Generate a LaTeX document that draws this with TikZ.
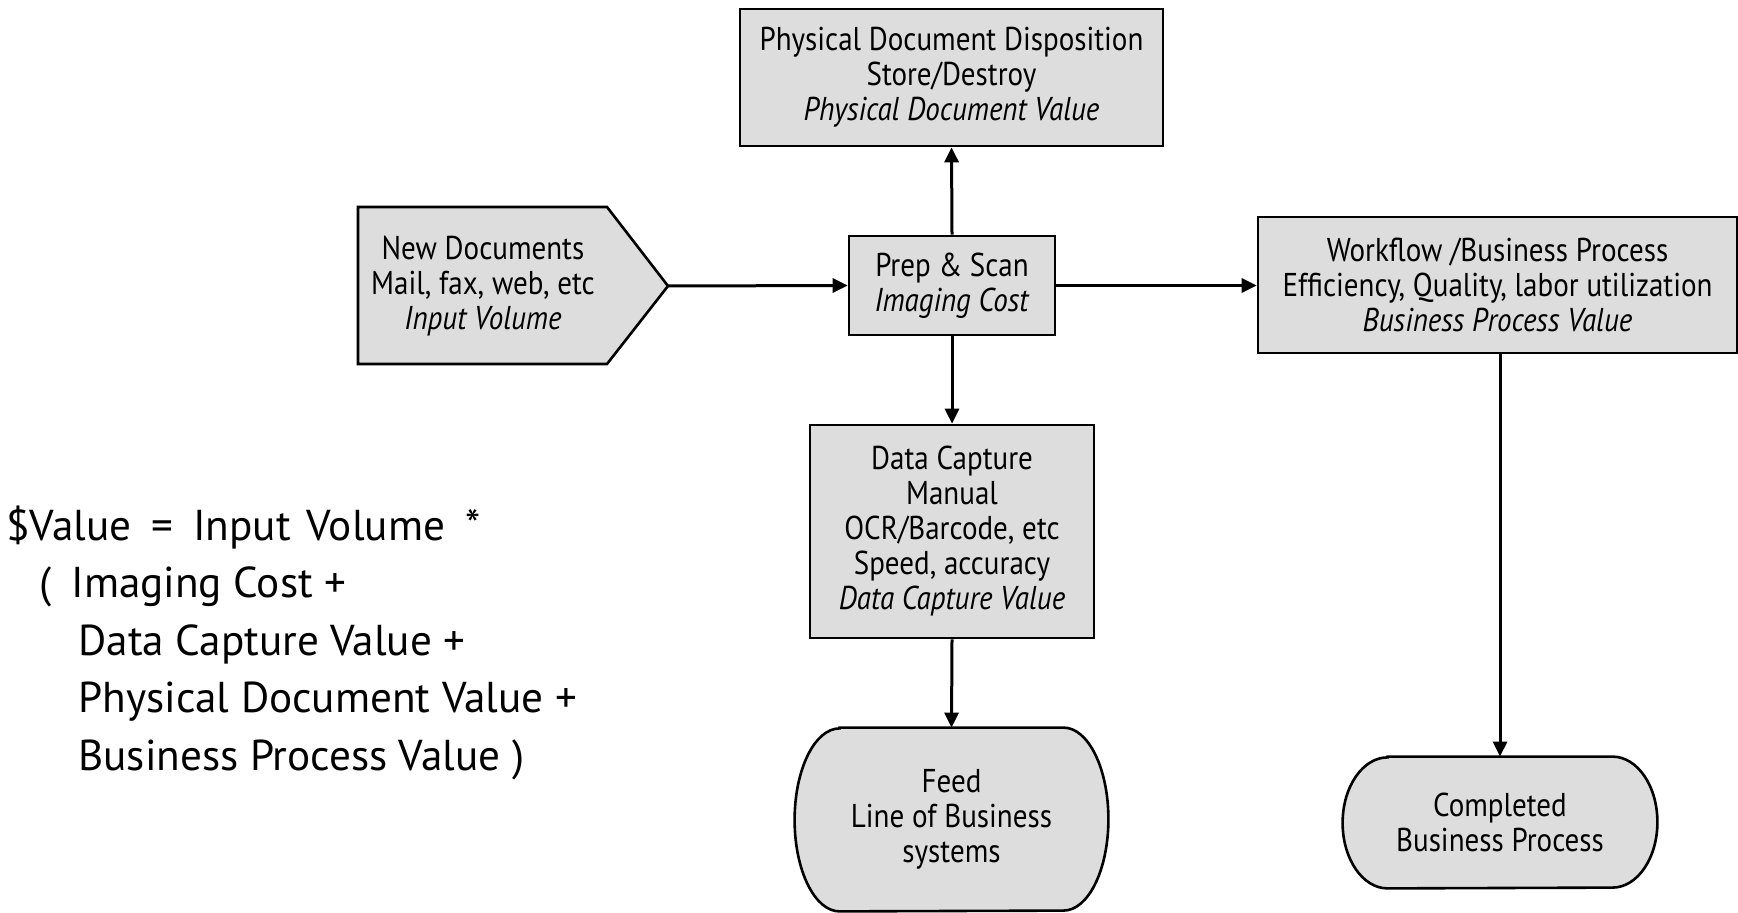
\documentclass[tikz,border=0pt]{standalone}
\usepackage{fontspec}
\setmainfont{PT Sans}[FakeStretch=0.88]
\newfontfamily\formulafont{PT Sans}
\usetikzlibrary{arrows.meta}
\definecolor{boxfill}{HTML}{DDDDDD}
\begin{document}
\begin{tikzpicture}[x=0.5pt,y=-0.5pt,
  box/.style={draw=black, line width=1.3pt, fill=boxfill, align=center, inner sep=0pt,
    font=\fontsize{16.5}{17.5}\selectfont},
  plain/.style={align=center, inner sep=0pt, font=\fontsize{16.5}{17.5}\selectfont},
  outline/.style={draw=black, line width=1.3pt, fill=boxfill},
  conn/.style={line width=1.5pt, -{Triangle[length=7.5pt,width=7pt]}}]
\useasboundingbox (0,0) rectangle (1738,913);

% New documents (pentagon)
\coordinate (ndtip) at (668,286);
\draw[outline] (358,207) -- (607,207) -- (ndtip) -- (607,364) -- (358,364) -- cycle;
\node[plain] (newdoc) at (483,286) {New Documents\\Mail, fax, web, etc\\\textit{Input Volume}};

% boxes
\node[box, minimum width=211.5pt, minimum height=68.5pt] (phys) at (951.5,77.5)
  {Physical Document Disposition\\Store/Destroy\\\textit{Physical Document Value}};
\node[box, minimum width=103pt, minimum height=49.5pt] (prep) at (952,285.5)
  {Prep \& Scan\\\textit{Imaging Cost}};
\node[box, minimum width=239.5pt, minimum height=68pt] (work) at (1497.5,285)
  {Workflow /Business Process\\Efficiency, Quality, labor utilization\\\textit{Business Process Value}};
\node[box, minimum width=142pt, minimum height=106.5pt] (data) at (952,531.5)
  {Data Capture\\Manual\\OCR/Barcode, etc\\Speed, accuracy\\\textit{Data Capture Value}};

% terminators
\node[plain, minimum width=156.5pt, minimum height=91.5pt] (feed) at (951.5,819.5) {};
\draw[outline] ([xshift=22.5pt]feed.north west) -- ([xshift=-22.5pt]feed.north east)
  arc[start angle=90, end angle=-90, x radius=22.5pt, y radius=45.75pt]
  -- ([xshift=22.5pt]feed.south west)
  arc[start angle=270, end angle=90, x radius=22.5pt, y radius=45.75pt] -- cycle;
\node[plain] at (feed.center) {Feed\\Line of Business\\systems};

\node[plain, minimum width=157pt, minimum height=65.5pt] (comp) at (1500,822.5) {};
\draw[outline] ([xshift=22.5pt]comp.north west) -- ([xshift=-22.5pt]comp.north east)
  arc[start angle=90, end angle=-90, x radius=22.5pt, y radius=32.75pt]
  -- ([xshift=22.5pt]comp.south west)
  arc[start angle=270, end angle=90, x radius=22.5pt, y radius=32.75pt] -- cycle;
\node[plain] at (comp.center) {Completed\\Business Process};

% connectors
\draw[conn] (ndtip) -- (prep.west);
\draw[conn] (prep.north) -- (phys.south);
\draw[conn] (prep.south) -- (data.north);
\draw[conn] (prep.east) -- (prep.east -| work.west);
\draw[conn] (data.south) -- (feed.north);
\draw[conn] (work.south -| comp.north) -- (comp.north);

% formula
\node[anchor=base west, align=left, inner sep=0pt, font=\formulafont\fontsize{21.6}{28.75}\selectfont] (formula) at (6,770)
  {\$Value\hspace{10pt}=\hspace{10pt}Input\hspace{8pt}Volume\hspace{10pt}*\\
   \hspace*{16.5pt}(\hspace*{10pt}Imaging Cost +\\
   \hspace*{36pt}Data Capture Value +\\
   \hspace*{36pt}Physical Document Value +\\
   \hspace*{36pt}Business Process Value )};
\end{tikzpicture}
\end{document}
